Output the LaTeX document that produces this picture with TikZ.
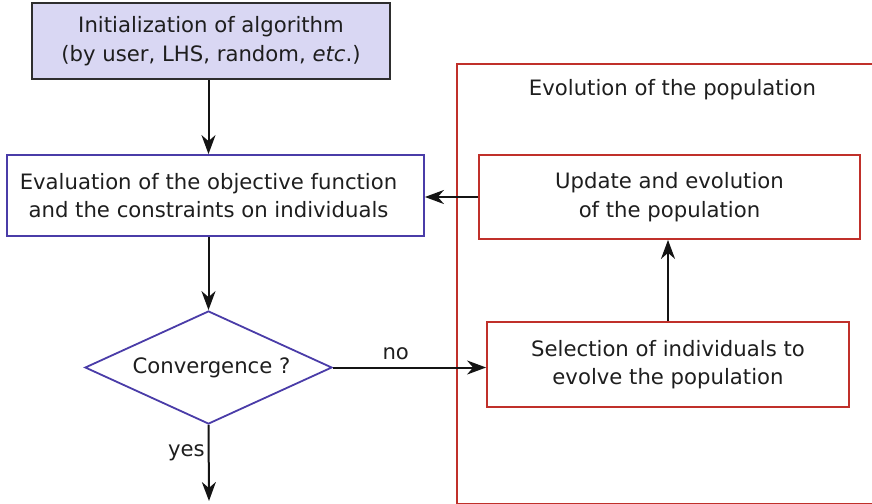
\documentclass[tikz,border=0pt]{standalone}
\usepackage{fontspec}
\setmainfont{DejaVu Sans}
\usetikzlibrary{arrows.meta,shapes.geometric}
\definecolor{txt}{HTML}{1E1E1E}
\definecolor{boxblue}{HTML}{4A3CA8}
\definecolor{boxred}{HTML}{C0302A}
\definecolor{lavender}{HTML}{D9D7F3}
\definecolor{initline}{HTML}{2E2E2E}
\tikzset{
  every node/.style={font=\fontsize{21.2}{28.5}\selectfont, text=txt},
  initbox/.style={draw=initline, fill=lavender, line width=2pt, align=center, inner sep=0pt},
  bluebox/.style={draw=boxblue, line width=1.8pt, align=center, inner sep=0pt},
  redbox/.style={draw=boxred, line width=1.8pt, align=center, inner sep=0pt},
  decision/.style={diamond, draw=boxblue, line width=1.8pt, inner sep=0pt, shape aspect=2.19},
  frame/.style={draw=boxred, line width=2.2pt},
  arr/.style={draw=black!92, line width=2pt, -{Stealth[length=19pt, width=14pt, inset=6pt]}},
  lbl/.style={inner sep=0pt},
}
\begin{document}
\begin{tikzpicture}[x=1pt, y=-1pt]
  \useasboundingbox (0,0) rectangle (872,503);

  % frame grouping the evolution steps
  \draw[frame] (457,64) rectangle (880,504);
  \node[lbl] (evotitle) at (672.5,90) {Evolution of the population};

  % main flow
  \node[initbox, minimum width=358pt, minimum height=76pt] (init) at (211,41)
    {Initialization of algorithm\\(by user, LHS, random, \textit{etc}.)};
  \node[bluebox, minimum width=417pt, minimum height=81pt] (eval) at (215.5,195.5)
    {\hspace*{-14pt}Evaluation of the objective function\\\hspace*{-14pt}and the constraints on individuals};
  \node[decision, minimum width=247pt, minimum height=113pt] (conv) at (208.5,367.5)
    {\hspace*{6pt}Convergence ?};
  \coordinate (stop) at (209,501);

  % evolution steps
  \node[redbox, minimum width=381pt, minimum height=84pt] (upd) at (669.5,197)
    {Update and evolution\\ of the population};
  \node[redbox, minimum width=362pt, minimum height=85pt] (sel) at (668,364.5)
    {Selection of individuals to\\evolve the population};

  % connectors
  \draw[arr] (init.south -| conv.north) -- (conv.north |- eval.north);
  \draw[arr] (conv.north |- eval.south) -- (conv.north);
  \draw[arr] (conv.south) -- (stop)
    node[lbl, pos=0.37, anchor=east, xshift=-3pt] {yes};
  \draw[arr] (conv.east) -- (conv.east -| sel.west)
    node[lbl, pos=0.41, anchor=south, yshift=7pt] {no};
  \draw[arr] (sel.north) -- (sel.north |- upd.south);
  \draw[arr] (upd.west) -- (upd.west -| eval.east);
\end{tikzpicture}
\end{document}
